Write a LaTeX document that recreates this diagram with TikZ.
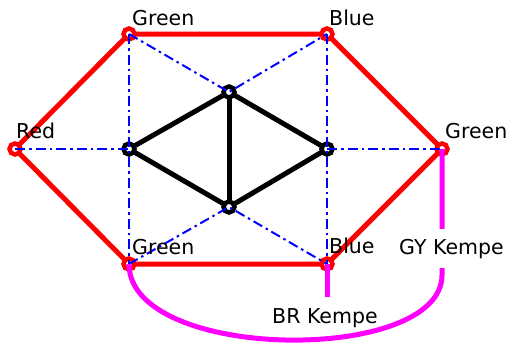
\documentclass[tikz,border=0pt]{standalone}
\usepackage{fontspec}
\setmainfont{DejaVu Sans}
\definecolor{kmag}{RGB}{255,0,255}
\definecolor{kred}{RGB}{255,0,0}
\definecolor{kblue}{RGB}{0,0,255}
\begin{document}
\begin{tikzpicture}[x=1pt,y=-1pt,
  redge/.style={kred,line width=5pt,line cap=round,line join=round},
  bedge/.style={black,line width=5pt,line cap=round},
  dedge/.style={kblue,line width=2pt,dash pattern=on 10pt off 4pt on 2.5pt off 4pt},
  kedge/.style={kmag,line width=5pt},
  overt/.style={circle,draw=kred,fill=white,line width=4.5pt,minimum size=11pt,inner sep=0pt},
  ivert/.style={circle,draw=black,fill=white,line width=4.5pt,minimum size=11pt,inner sep=0pt},
  lbl/.style={font=\fontsize{20.5}{24}\selectfont,inner sep=0pt,anchor=base west}]
\useasboundingbox (0,0) rectangle (514,343);
\coordinate (R) at (15,149);
\coordinate (GTL) at (129,34);
\coordinate (BTR) at (327,34);
\coordinate (GR) at (442,149);
\coordinate (GBL) at (129,264);
\coordinate (BBR) at (327,264);
\coordinate (IL) at (129,149);
\coordinate (IR) at (327,149);
\coordinate (IT) at (229,92);
\coordinate (IB) at (229,207);
\coordinate (GYe) at (442,275);
\coordinate (BRe) at (327,297);
% red outer cycle
\draw[redge] (R) -- (GTL) -- (BTR) -- (GR) -- (BBR) -- (GBL) -- cycle;
% black inner graph
\draw[bedge] (IL) -- (IT) -- (IR) -- (IB) -- (IL);
\draw[bedge] (IT) -- (IB);
% vertices
\foreach \v in {R,GTL,BTR,GR,GBL,BBR} \node[overt] (n\v) at (\v) {};
\foreach \v in {IL,IR,IT,IB} \node[ivert] (n\v) at (\v) {};
% blue dash-dot edges
\draw[dedge] (R) -- (IL);
\draw[dedge] (GTL) -- (GBL);
\draw[dedge] (GTL) -- (IT) -- (BTR);
\draw[dedge] (BTR) -- (BBR);
\draw[dedge] (IR) -- (GR);
\draw[dedge] (GBL) -- (IB) -- (BBR);
% Kempe chains
\draw[kedge] (GR) -- (GYe) .. controls (442,365) and (129,362) .. (GBL);
\draw[kedge] (BBR) -- (BRe);
\node[lbl,fill=white,inner ysep=10pt,inner xsep=1pt] (gy) at (398,254) {GY Kempe};
\node[lbl] (br) at (272,323) {BR Kempe};
% labels
\node[lbl] (lGTL) at (132,25) {Green};
\node[lbl] (lBTR) at (329,25) {Blue};
\node[lbl] (lR) at (16,138) {Red};
\node[lbl] (lGR) at (445,138) {Green};
\node[lbl] (lGBL) at (132,254) {Green};
\node[lbl] (lBBR) at (329,253) {Blue};
\end{tikzpicture}
\end{document}
